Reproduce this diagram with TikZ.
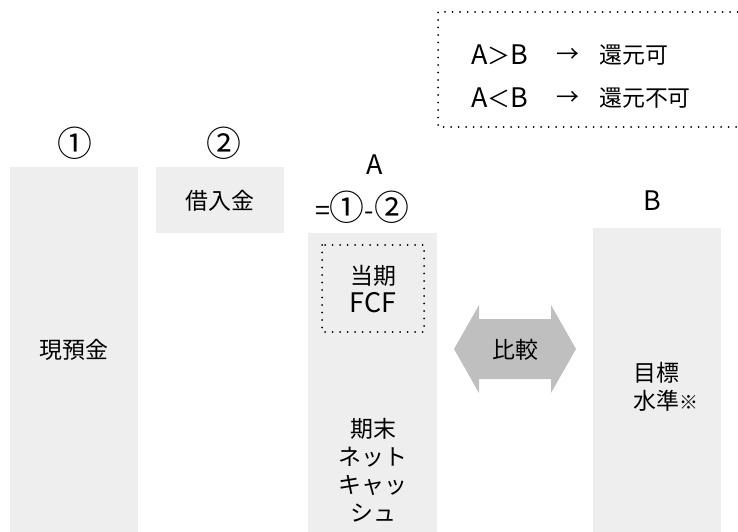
\documentclass[tikz,border=0pt]{standalone}
\usepackage{fontspec}
\setmainfont{Noto Sans CJK JP}
\definecolor{boxgray}{HTML}{EEEEEE}
\definecolor{arrowgray}{HTML}{BFBFBF}
\newcommand\jtext{\fontsize{23}{28}\selectfont}
\newcommand\ltext{\fontsize{27}{28}\selectfont}
\newcommand\ctext{\fontsize{35}{28}\selectfont}
\newcommand\stext{\fontsize{19}{14}\selectfont}
\tikzset{
	bar/.style={fill=boxgray},
	lbl/.style={inner sep=0pt, font=\jtext, align=center},
	dotbox/.style={draw=black, line width=2bp, dash pattern=on 0bp off 7.5bp, line cap=round},
}

\begin{document}
\begin{tikzpicture}[x=1bp, y=-1bp]
			%%%%% START %%%%%
			\useasboundingbox (0,0) rectangle (738,532);
			
			\draw[dotbox] (745,12) -- (438,12) -- (438,127) -- (745,127);
			\node[lbl, anchor=west] (gtab) at (471,55) {{\ltext A}＞{\ltext B}};
			\node[lbl] (gtarrow) at (568,55) {→};
			\node[lbl, anchor=west] (gtok) at (599,55) {還元可};
			\node[lbl, anchor=west] (ltab) at (471,98) {{\ltext A}＜{\ltext B}};
			\node[lbl] (ltarrow) at (568,98) {→};
			\node[lbl, anchor=west] (ltng) at (599,98) {還元不可};
			
			\fill[bar] (10,167) rectangle (138,533);
			\node[lbl] (one) at (75,143) {\ctext ①};
			\node[lbl] (cash) at (74,350) {現預金};
			
			\fill[bar] (156,167) rectangle (284,233);
			\node[lbl] (two) at (224,143) {\ctext ②};
			\node[lbl] (debt) at (220,201) {借入金};
			
			\fill[bar] (308,233) rectangle (437,533);
			\node[lbl] (alabel) at (375,165) {\ltext A};
			\node[lbl] (aform) at (362,207) {{\ltext =}{\ctext ①}{\ltext -}{\ctext ②}};
			\draw[dotbox] (322,245) rectangle (424,332);
			\node[lbl] (fcf) at (373,289) {当期\\{\ltext FCF}};
			\node[lbl] (netcash) at (373,470) {期末\\ネット\\キャッ\\シュ};
			
			\fill[arrowgray] (454,349) -- (479,305) -- (479,319) -- (551,319) -- (551,305)
				-- (576,349) -- (551,393) -- (551,379) -- (479,379) -- (479,393) -- cycle;
			\node[lbl] (compare) at (515,350) {比較};
			
			\fill[bar] (593,228) rectangle (721,533);
			\node[lbl] (blabel) at (652,201) {\ltext B};
			\node[lbl, anchor=west, align=left] (target) at (633,387) {目標\\水準{\stext ※}};
			
			%%%%% END %%%%%
\end{tikzpicture}
\end{document}
